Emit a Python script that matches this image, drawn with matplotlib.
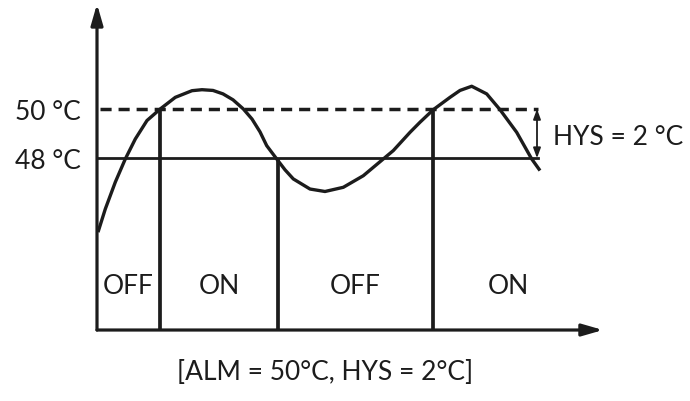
import matplotlib
matplotlib.use("Agg")
import matplotlib.pyplot as plt

plt.rcParams['font.family'] = ['Lato', 'DejaVu Sans']

# temperature curve (time in arbitrary units, temperature in deg C)
t_curve = [0.1, 0.83, 1.83, 2.83, 3.83, 5.0, 6.33, 7.83, 9.5, 10.5, 11.6, 12.6, 13.6,
           14.63, 15.5, 16.3, 16.97, 17.97, 18.8, 19.63, 21.3, 22.8, 24.63, 26.63,
           28.63, 29.63, 31.3, 32.3, 33.63, 35.3, 36.3, 37.47, 38.97, 40.3, 41.97,
           43.47, 44.3]
temp_curve = [45.0, 45.94, 47.03, 47.97, 48.78, 49.53, 50.0, 50.47, 50.74, 50.78, 50.75,
              50.61, 50.37, 50.0, 49.59, 49.07, 48.51, 47.97, 47.53, 47.16, 46.75, 46.65,
              46.82, 47.29, 47.97, 48.31, 49.05, 49.46, 49.97, 50.47, 50.75, 50.92, 50.61,
              49.97, 49.05, 47.97, 47.5]

alm = 50.0
hys = 2.0
switch_times = [6.3, 18.1, 33.6]
switch_tops = [50.0, 48.0, 50.0]
state_labels = ['OFF', 'ON', 'OFF', 'ON']
state_pos = [3.15, 12.2, 25.85, 41.1]

t_end = 44.1       # where the threshold lines stop
t_arrow = 50.6     # x axis arrow tip
temp_base = 41.03  # x axis height
temp_top = 54.26   # y axis arrow tip
state_temp = 42.82
nudge = 0.1        # text sits a touch lower than its bbox centre

ink = '#1c1c1c'

fig = plt.figure(figsize=(6.9, 4.02), dpi=100)
ax = fig.add_axes([0, 0, 1, 1])
ax.set_xlim(-9.7, 59.3)
ax.set_ylim(38.15, 54.46)
ax.axis('off')

# axes with arrow heads
axis_style = dict(arrowstyle='-|>,head_length=1.25,head_width=0.36', lw=2.3,
                  color=ink, mutation_scale=10, shrinkA=0, shrinkB=0)
ax.annotate('', xy=(t_arrow, temp_base), xytext=(0, temp_base), arrowprops=axis_style)
ax.annotate('', xy=(0, temp_top), xytext=(0, temp_base), arrowprops=axis_style)

# threshold lines
ax.plot([0.3, t_end], [alm, alm], color=ink, lw=2.5, linestyle=(0, (3.2, 2.0)),
        solid_capstyle='butt', dash_capstyle='butt')
ax.plot([0, t_end], [alm - hys, alm - hys], color=ink, lw=2.0)

# switching points
for t, top in zip(switch_times, switch_tops):
    ax.plot([t, t], [temp_base, top], color=ink, lw=2.7, solid_capstyle='butt')

# temperature curve
ax.plot(t_curve, temp_curve, color=ink, lw=2.4, solid_joinstyle='round',
        solid_capstyle='butt')

# hysteresis arrow
ax.annotate('', xy=(44.0, alm - hys), xytext=(44.0, alm),
            arrowprops=dict(arrowstyle='<|-|>,head_length=0.6,head_width=0.22',
                            lw=1.3, color=ink, mutation_scale=10,
                            shrinkA=0, shrinkB=0))
ax.text(45.6, alm - hys / 2 - nudge, 'HYS = 2 °C', fontsize=19, color=ink,
        ha='left', va='center')

ax.text(-1.6, alm - nudge, '50 °C', fontsize=19, color=ink, ha='right', va='center')
ax.text(-1.6, alm - hys - nudge, '48 °C', fontsize=19, color=ink, ha='right', va='center')

for lab, pos in zip(state_labels, state_pos):
    ax.text(pos, state_temp, lab, fontsize=19, color=ink, ha='center', va='center')

ax.text(22.8, 39.33, '[ALM = 50°C, HYS = 2°C]', fontsize=19, color=ink,
        ha='center', va='center')

fig.savefig('out.png', dpi=100)
